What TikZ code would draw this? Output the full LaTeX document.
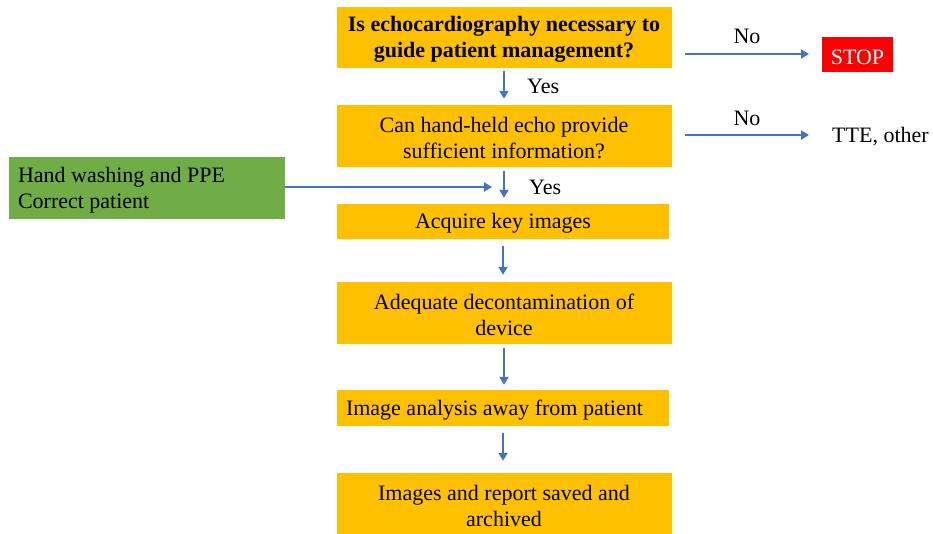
\documentclass[tikz,border=0pt]{standalone}
\usepackage{fontspec}
\setmainfont{Liberation Serif}
\usetikzlibrary{arrows.meta}
\definecolor{boxorange}{HTML}{FFC000}
\definecolor{boxgreen}{HTML}{70AD47}
\definecolor{arrowblue}{HTML}{4472C4}
\definecolor{stopred}{HTML}{FF0000}
\newcommand{\topstrut}{\rule{0pt}{19.5pt}}
\tikzset{
  flowbox/.style={fill=boxorange, draw=none, minimum width=335pt, align=center, inner sep=0pt, font=\fontsize{22}{26}\selectfont},
  sidebox/.style={fill=boxgreen, draw=none, minimum width=276pt, minimum height=62pt, text width=258pt, align=flush left, inner xsep=9pt, inner ysep=0pt, font=\fontsize{22}{25.5}\selectfont},
  lbl/.style={font=\fontsize{22}{25}\selectfont, inner sep=0pt},
  flowarrow/.style={draw=arrowblue, line width=2.3pt, -{Triangle[length=8pt,width=9pt]}}
}
\begin{document}
\begin{tikzpicture}[x=1pt,y=-1pt]
\useasboundingbox[fill=white] (0,0) rectangle (933,534);
\node[flowbox, minimum height=61pt, font=\fontsize{22}{26}\selectfont\bfseries] (b1) at (504,37.5) {\topstrut Is echocardiography necessary to\\guide patient management?};
\node[flowbox, minimum height=62pt] (b2) at (504,136) {\topstrut Can hand-held echo provide\\sufficient information?};
\node[flowbox, minimum height=35pt, minimum width=332pt] (b3) at (503,221.5) {\topstrut Acquire key images};
\node[flowbox, minimum height=62pt] (b4) at (504,313) {\topstrut Adequate decontamination of\\device};
\node[flowbox, minimum height=36pt, minimum width=332pt, text width=314pt, align=flush left, inner xsep=9pt, inner ysep=0pt] (b5) at (503,408) {\topstrut Image analysis away from patient};
\node[flowbox, minimum height=61pt] (b6) at (504,503.5) {\topstrut Images and report saved and\\archived};
\node[sidebox] (g) at (147,188) {\topstrut Hand washing and PPE\\Correct patient};
\node[fill=stopred, text=white, minimum width=71pt, minimum height=35pt, inner sep=0pt, font=\fontsize{22}{25}\selectfont] (stop) at (857.5,54.5) {\topstrut STOP};
\node[lbl, anchor=west] (tte) at (832,137) {TTE, other};
\coordinate (n1s) at (685,54);
\coordinate (n1e) at (809,54);
\coordinate (n2s) at (685,135);
\coordinate (n2e) at (809,135);
\coordinate (ge) at (492,187);
\draw[flowarrow] (n1s) -- (n1e) node[lbl, midway, above=9pt] (no1) {No};
\draw[flowarrow] (n2s) -- (n2e) node[lbl, midway, above=8pt] (no2) {No};
\draw[flowarrow, shorten <=3pt, shorten >=6pt] (b1.south) -- (b2.north) node[lbl, midway, right=22pt] (y1) {Yes};
\draw[flowarrow, shorten <=4pt, shorten >=6pt] (b2.south) -- (b3.north -| b2.south) node[lbl, midway, right=24pt, yshift=-2pt] (y2) {Yes};
\draw[flowarrow, shorten <=7pt, shorten >=7pt] (b3.south) -- (b4.north -| b3.south);
\draw[flowarrow, shorten <=4pt, shorten >=5pt] (b4.south) -- (b5.north -| b4.south);
\draw[flowarrow, shorten <=7pt, shorten >=12pt] (b5.south) -- (b6.north -| b5.south);
\draw[flowarrow] (g.east |- ge) -- (ge);
\end{tikzpicture}
\end{document}
